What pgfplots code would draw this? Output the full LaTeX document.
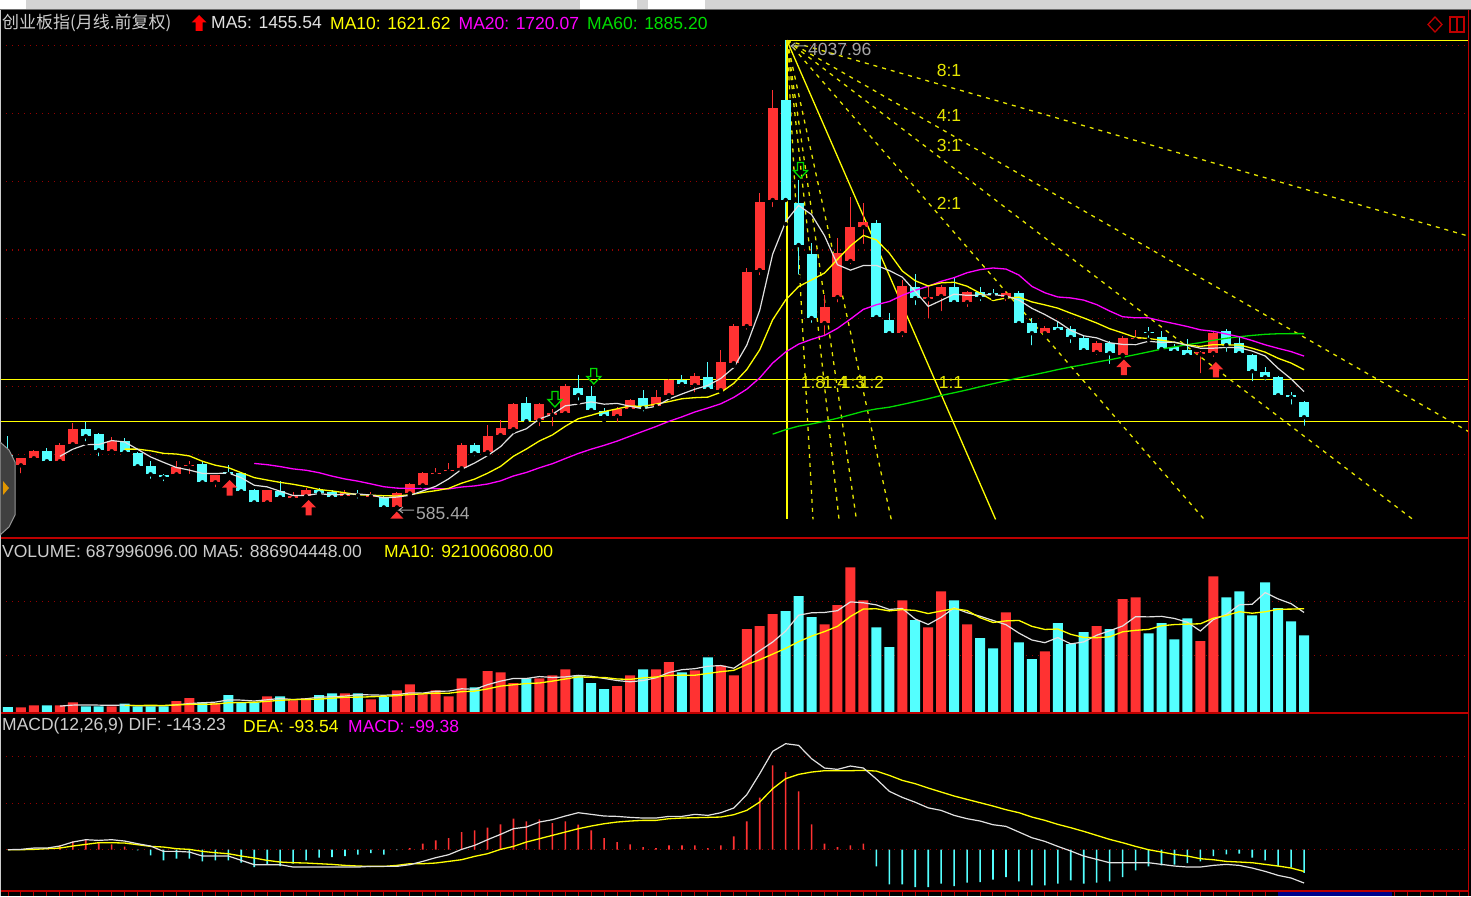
\documentclass[border=0pt]{standalone}
\usepackage{fontspec}
\setmainfont{Liberation Sans}
\newfontfamily\cjk{Noto Sans CJK SC}
\usepackage{pgfplots}
\usepackage{pgfplotstable}
\pgfplotsset{compat=1.18}

\definecolor{cred}{RGB}{255,50,50}
\definecolor{ccyan}{RGB}{84,255,255}
\definecolor{cyel}{RGB}{255,255,0}
\definecolor{cfan}{RGB}{230,230,0}
\definecolor{cmag}{RGB}{255,0,255}
\definecolor{cgrn}{RGB}{0,220,0}
\definecolor{cwht}{RGB}{225,225,225}
\definecolor{ctxt}{RGB}{205,205,205}
\definecolor{cgray}{RGB}{165,165,165}
\definecolor{cgrid}{RGB}{150,0,0}
\definecolor{cframe}{RGB}{190,0,0}
\definecolor{cbar}{RGB}{212,212,212}
\definecolor{cbarline}{RGB}{110,110,110}
\definecolor{ctab}{RGB}{64,64,64}
\definecolor{ctabline}{RGB}{150,150,150}
\definecolor{corange}{RGB}{225,150,0}
\definecolor{cnavy}{RGB}{0,0,140}

% block arrows used as marks
\pgfdeclareplotmark{uparrow}{%
  \pgfpathmoveto{\pgfpoint{0pt}{8pt}}
  \pgfpathlineto{\pgfpoint{7.5pt}{0.5pt}}
  \pgfpathlineto{\pgfpoint{3pt}{0.5pt}}
  \pgfpathlineto{\pgfpoint{3pt}{-7.5pt}}
  \pgfpathlineto{\pgfpoint{-3pt}{-7.5pt}}
  \pgfpathlineto{\pgfpoint{-3pt}{0.5pt}}
  \pgfpathlineto{\pgfpoint{-7.5pt}{0.5pt}}
  \pgfpathclose\pgfusepathqfill}
\pgfdeclareplotmark{downarrow}{%
  \pgfpathmoveto{\pgfpoint{0pt}{-8pt}}
  \pgfpathlineto{\pgfpoint{7pt}{-0.5pt}}
  \pgfpathlineto{\pgfpoint{3pt}{-0.5pt}}
  \pgfpathlineto{\pgfpoint{3pt}{7.5pt}}
  \pgfpathlineto{\pgfpoint{-3pt}{7.5pt}}
  \pgfpathlineto{\pgfpoint{-3pt}{-0.5pt}}
  \pgfpathlineto{\pgfpoint{-7pt}{-0.5pt}}
  \pgfpathclose\pgfusepathqstroke}
\pgfdeclareplotmark{lowtri}{%
  \pgfpathmoveto{\pgfpoint{0pt}{3.5pt}}
  \pgfpathlineto{\pgfpoint{6.5pt}{-3.5pt}}
  \pgfpathlineto{\pgfpoint{-6.5pt}{-3.5pt}}
  \pgfpathclose\pgfusepathqfill}

\pgfplotsset{
  panel/.style={scale only axis, width=1468pt, xmin=-0.617, xmax=112.65,
    anchor=north west, axis line style={draw=none}, xtick=\empty, ytick=\empty},
  gridl/.style={cgrid, line width=1.2pt, dash pattern=on 1.5pt off 4.5pt},
  wick/.style={only marks, mark=none, error bars/y dir=plus, error bars/y explicit,
    error bars/error mark=none, error bars/error bar style={#1, line width=1pt}},
  body/.style={only marks, mark=none, error bars/y dir=plus, error bars/y explicit,
    error bars/error mark=none, error bars/error bar style={#1, line width=10pt}},
}

% monthly candles, red = up
\pgfplotstableread{
i o h l c v
1 919 975 846 971 42
2 971 1030 960 1022 60
4 949 1081 920 1066 60
5 1074 1228 1060 1184 87
8 1022 1125 1010 1096 51
13 853 949 840 904 99
14 912 949 840 925 126
16 794 850 743 846 81
20 647 740 640 735 141
22 677 720 662 691 105
23 691 750 685 735 123
26 691 740 660 713 168
28 690 725 670 698 114
30 610 720 585 713 195
31 713 790 700 779 249
32 772 870 765 860 159
33 853 900 830 862 195
34 875 935 850 885 141
35 897 1081 880 1066 303
37 1015 1213 1000 1132 369
38 1140 1250 1130 1191 357
39 1184 1380 1170 1368 261
41 1250 1380 1191 1368 303
42 1290 1330 1191 1301 330
43 1301 1515 1290 1500 384
47 1280 1345 1220 1331 234
48 1331 1405 1320 1397 330
50 1353 1470 1340 1419 384
51 1434 1555 1420 1544 450
53 1507 1600 1441 1573 375
55 1470 1764 1460 1676 417
56 1669 1960 1650 1941 330
57 1941 2370 1900 2338 747
58 2352 2920 2300 2852 774
59 2867 3675 2800 3543 882
63 1963 2170 1850 2080 789
64 2154 2588 2100 2477 963
65 2419 2889 2380 2668 1302
66 2668 2845 2529 2705 1005
69 1889 2280 1846 2235 1005
71 2139 2230 1981 2154 762
72 2161 2240 2037 2227 1086
74 2117 2200 2067 2191 789
77 2154 2200 2111 2183 897
80 1889 1940 1870 1926 546
84 1750 1830 1714 1816 774
86 1728 1870 1720 1852 1017
87 1843 1912 1827 1852 1032
92 1735 1760 1580 1750 639
93 1742 1900 1700 1889 1221
}\up

% cyan = down
\pgfplotstableread{
i o h l c v
0 993 1136 882 919 45
3 1022 1045 935 949 60
6 1184 1235 1081 1132 51
7 1147 1155 971 1029 51
9 1096 1118 1000 1015 75
10 1007 1015 890 912 51
11 912 949 805 853 51
12 846 853 787 831 51
15 927 940 790 794 87
17 870 919 831 855 153
18 860 868 700 728 87
19 735 745 618 647 87
21 728 801 670 684 141
24 735 750 700 713 153
25 721 735 670 684 168
27 706 740 660 698 168
29 684 695 600 610 135
36 1066 1081 970 1007 222
40 1375 1420 1230 1243 303
44 1485 1581 1380 1434 330
45 1427 1500 1310 1324 261
46 1316 1340 1250 1280 207
49 1412 1470 1300 1338 384
52 1544 1580 1500 1515 357
54 1566 1676 1450 1478 492
60 3602 4038 2690 2867 909
61 2845 3014 2304 2536 1044
62 2470 2550 1950 2000 855
67 2698 2720 1980 2007 762
68 1985 2040 1866 1889 585
70 2227 2324 2081 2147 828
73 2227 2294 2110 2117 1005
75 2191 2228 2111 2154 666
76 2183 2214 2148 2169 573
78 2183 2200 1937 1963 627
79 1963 2000 1786 1889 477
81 1934 1970 1900 1911 801
82 1919 1942 1802 1860 612
83 1852 1870 1740 1764 720
85 1816 1830 1648 1742 747
88 1897 1935 1840 1889 708
89 1860 1907 1760 1772 801
90 1786 1810 1730 1757 654
91 1764 1846 1707 1728 843
94 1904 1920 1737 1801 1032
95 1816 1869 1722 1742 1086
96 1728 1740 1521 1610 870
97 1603 1643 1526 1566 1167
98 1566 1575 1416 1434 936
99 1434 1460 1350 1420 816
100 1382 1390 1195 1272 690
}\dn

% moving averages, volume averages, MACD
\pgfplotstableread{
i ma5 ma10 ma20 ma60 vma5 vma10 dif dea macd
0 nan nan nan nan nan nan 0 0 0
1 nan nan nan nan nan nan 1.4 0 0
2 nan nan nan nan nan nan 7.2 1.4 0
3 nan nan nan nan nan nan 7.2 4.3 0
4 985 nan nan nan 53 nan 15.8 7.2 18.6
5 1038 nan nan nan 62 nan 33.0 15.8 35.8
6 1071 nan nan nan 64 nan 43.0 23.0 43.0
7 1072 nan nan nan 62 nan 40.1 30.1 30.1
8 1101 nan nan nan 60 nan 43.0 30.1 22.9
9 1091 1038 nan nan 63 58 37.3 28.7 12.9
10 1037 1038 nan nan 56 59 25.8 21.5 -2.9
11 981 1026 nan nan 56 60 15.8 14.3 -24.4
12 941 1007 nan nan 56 59 -7.2 11.5 -45.9
13 903 1002 nan nan 65 63 -7.2 4.3 -38.7
14 884 988 nan nan 76 69 -10.0 1.4 -38.7
15 860 949 nan nan 83 69 -27.2 -7.2 -50.2
16 859 920 nan nan 89 72 -27.2 -12.9 -45.9
17 863 902 nan nan 109 83 -27.2 -17.2 -45.9
18 828 865 nan nan 107 86 -45.9 -27.2 -55.9
19 773 829 933 nan 99 87 -64.5 -35.8 -74.5
20 761 811 924 nan 110 96 -64.5 -45.9 -64.5
21 729 794 910 nan 122 105 -64.5 -53.0 -70.2
22 697 780 893 nan 112 111 -74.5 -55.9 -60.2
23 698 763 883 nan 119 113 -74.5 -57.3 -45.9
24 712 742 865 nan 133 116 -74.5 -60.2 -34.4
25 701 731 840 nan 138 124 -74.5 -63.1 -31.5
26 707 718 819 nan 143 133 -74.5 -67.4 -27.2
27 709 703 803 nan 156 134 -74.5 -70.2 -21.5
28 701 700 783 nan 154 137 -71.7 -71.7 -14.3
29 680 696 762 nan 151 142 -71.7 -71.7 -21.5
30 686 694 752 nan 156 147 -71.7 -67.4 -1.4
31 699 703 749 nan 172 158 -64.5 -60.2 7.2
32 731 720 750 nan 170 163 -50.2 -60.2 25.8
33 765 733 748 nan 187 170 -34.4 -57.3 40.1
34 820 750 746 nan 188 169 -21.5 -50.2 50.2
35 890 788 760 nan 209 183 1.4 -43.0 76.0
36 936 818 768 nan 204 188 18.6 -28.7 83.1
37 990 861 782 nan 246 208 43.0 -17.2 94.6
38 1056 911 805 nan 278 233 65.9 1.4 108.9
39 1153 986 841 nan 302 245 90.3 14.3 133.3
40 1188 1039 867 nan 302 256 97.5 33.0 121.8
41 1260 1098 901 nan 319 261 119.0 47.3 130.4
42 1294 1142 931 nan 311 278 129.0 61.6 114.7
43 1356 1206 969 nan 316 297 144.8 76.0 121.8
44 1369 1261 1006 nan 330 316 159.1 90.3 107.5
45 1385 1287 1038 nan 322 312 152.0 101.8 83.1
46 1368 1314 1066 nan 302 311 144.8 111.8 50.2
47 1374 1334 1097 nan 283 297 143.3 119.0 33.0
48 1353 1355 1133 nan 272 294 139.0 123.3 22.9
49 1334 1352 1169 nan 283 307 136.2 126.2 11.5
50 1353 1369 1204 nan 308 315 136.2 126.2 7.2
51 1406 1387 1242 nan 356 329 143.3 133.3 18.6
52 1443 1408 1275 nan 381 332 143.3 136.2 18.6
53 1478 1416 1311 nan 390 331 152.0 137.6 18.6
54 1506 1420 1340 nan 412 347 147.6 139.0 7.2
55 1557 1455 1371 nan 418 363 159.1 140.5 18.6
56 1637 1521 1418 nan 394 375 179.2 150.5 57.3
57 1801 1622 1478 nan 472 427 236.5 169.1 121.8
58 2057 1767 1561 nan 552 471 326.8 204.9 223.6
59 2470 1988 1670 1148 630 521 422.9 262.3 362.6
60 2708 2133 1751 1181 728 573 455.8 305.3 334.0
61 2827 2232 1809 1207 871 633 448.7 323.9 250.8
62 2760 2280 1844 1223 893 683 391.3 333.9 108.9
63 2605 2331 1873 1242 896 724 351.2 339.7 25.8
64 2392 2431 1925 1265 912 771 345.4 339.7 11.5
65 2352 2530 1993 1290 991 860 359.8 339.7 18.6
66 2386 2607 2064 1316 983 927 351.2 341.1 25.8
67 2387 2574 2098 1333 964 929 304.1 338.2 -71.7
68 2349 2477 2122 1346 923 910 251.0 319.6 -149.1
69 2301 2346 2167 1366 932 922 225.0 298.1 -149.1
70 2197 2274 2204 1387 837 914 204.0 283.8 -160.5
71 2086 2236 2234 1408 788 886 180.0 265.2 -160.5
72 2130 2259 2270 1432 853 909 169.0 248.0 -146.2
73 2176 2263 2297 1452 937 930 147.6 230.8 -156.2
74 2167 2234 2333 1473 894 913 133.3 216.4 -141.9
75 2169 2183 2356 1496 862 849 123.3 202.1 -139.0
76 2172 2129 2368 1518 824 806 107.5 187.8 -129.0
77 2163 2147 2360 1540 786 820 100.3 172.0 -117.5
78 2132 2154 2316 1561 710 824 76.0 159.1 -136.2
79 2072 2119 2233 1581 648 771 51.6 140.5 -153.4
80 2026 2097 2186 1601 624 743 35.8 126.2 -153.4
81 1974 2073 2155 1622 670 747 14.3 109.0 -146.2
82 1910 2036 2148 1641 613 699 -5.7 94.6 -131.8
83 1870 2001 2132 1658 631 671 -27.2 78.8 -146.2
84 1855 1964 2099 1677 691 669 -41.6 61.6 -141.9
85 1819 1922 2052 1694 731 677 -55.9 44.4 -136.2
86 1807 1891 2010 1713 774 722 -55.9 30.1 -117.5
87 1805 1858 2002 1732 858 735 -55.9 14.3 -88.9
88 1830 1850 2002 1752 856 743 -55.9 0 -71.7
89 1821 1838 1979 1772 861 776 -63.1 -10.0 -67.4
90 1824 1822 1959 1789 842 787 -70.2 -20.1 -64.5
91 1800 1803 1938 1805 808 791 -74.5 -27.2 -57.3
92 1779 1792 1914 1820 729 794 -74.5 -38.7 -50.2
93 1779 1805 1903 1837 832 844 -67.4 -43.0 -27.2
94 1785 1803 1883 1852 878 869 -63.1 -50.2 -20.1
95 1782 1803 1863 1863 964 903 -67.4 -53.0 -17.2
96 1758 1779 1835 1873 970 889 -78.8 -55.9 -34.4
97 1722 1750 1804 1881 1075 902 -93.2 -63.1 -45.9
98 1631 1705 1778 1885 1018 925 -110.4 -70.2 -71.7
99 1554 1670 1754 1886 975 926 -121.8 -78.8 -77.4
100 1460 1621 1721 1886 896 930 -143.2 -93.5 -99.4
}\main

\newcommand\tf{\fontsize{17.5}{18}\selectfont}

\begin{document}
\begin{tikzpicture}[x=1pt, y=1pt]
\useasboundingbox (0,0) rectangle (1471,-896);
\fill[black] (0,0) rectangle (1471,-896);
% top toolbar strip
\fill[cbar] (0,0) rectangle (1471,-9);
\fill[white] (0,0) rectangle (26,-9);
\fill[white] (580,0) rectangle (637,-9);
\fill[white] (648,0) rectangle (705,-9);
\draw[cbarline, line width=1.5pt] (0,-9.5) -- (1471,-9.5);

% ---------------- price panel ----------------
\begin{axis}[panel, at={(0pt,-33pt)}, height=504pt, ymin=393, ymax=4093]
% dotted grid
\addplot[gridl] coordinates {(-0.62,1000) (112.65,1000)};
\addplot[gridl] coordinates {(-0.62,1500) (112.65,1500)};
\addplot[gridl] coordinates {(-0.62,2000) (112.65,2000)};
\addplot[gridl] coordinates {(-0.62,2500) (112.65,2500)};
\addplot[gridl] coordinates {(-0.62,3000) (112.65,3000)};
\addplot[gridl] coordinates {(-0.62,3500) (112.65,3500)};
\addplot[gridl] coordinates {(-0.62,4000) (112.65,4000)};
% horizontal lines and Gann fan
\addplot[cyel, line width=1.6pt] coordinates {(-0.62,1549) (112.65,1549)};
\addplot[cyel, line width=1.6pt] coordinates {(-0.62,1242) (112.65,1242)};
\addplot[cyel, line width=1.3pt] coordinates {(60.1,4038) (112.65,4038)};
\addplot[cyel, line width=1.6pt] coordinates {(60.1,4038) (60.1,522)};
\addplot[cfan, line width=1.3pt, dash pattern=on 4pt off 5pt] coordinates {(60.1,4038) (112.65,2603)};
\addplot[cfan, line width=1.3pt, dash pattern=on 4pt off 5pt] coordinates {(60.1,4038) (112.65,1169)};
\addplot[cfan, line width=1.3pt, dash pattern=on 4pt off 5pt] coordinates {(60.1,4038) (108.4,522)};
\addplot[cfan, line width=1.3pt, dash pattern=on 4pt off 5pt] coordinates {(60.1,4038) (92.3,522)};
\addplot[cyel, line width=1.3pt] coordinates {(60.1,4038) (76.2,522)};
\addplot[cfan, line width=1.3pt, dash pattern=on 4pt off 5pt] coordinates {(60.1,4038) (68.15,522)};
\addplot[cfan, line width=1.3pt, dash pattern=on 4pt off 5pt] coordinates {(60.1,4038) (65.46,522)};
\addplot[cfan, line width=1.3pt, dash pattern=on 4pt off 5pt] coordinates {(60.1,4038) (64.12,522)};
\addplot[cfan, line width=1.3pt, dash pattern=on 4pt off 5pt] coordinates {(60.1,4038) (62.11,522)};
% candles
\addplot[wick=cred] table[x=i, y=l, y error expr=\thisrow{h}-\thisrow{l}] {\up};
\addplot[body=cred] table[x=i, y=o, y error expr=\thisrow{c}-\thisrow{o}] {\up};
\addplot[wick=ccyan] table[x=i, y=l, y error expr=\thisrow{h}-\thisrow{l}] {\dn};
\addplot[body=ccyan] table[x=i, y=c, y error expr=\thisrow{o}-\thisrow{c}] {\dn};
% moving averages
\addplot[cgrn, line width=1.3pt] table[x=i, y=ma60] {\main};
\addplot[cmag, line width=1.3pt] table[x=i, y=ma20] {\main};
\addplot[cyel, line width=1.3pt] table[x=i, y=ma10] {\main};
\addplot[cwht, line width=1.2pt] table[x=i, y=ma5] {\main};
% signal marks
\addplot[only marks, mark=uparrow, cred] coordinates {(17.1,752) (23.2,606) (86.1,1637) (93.2,1619)};
\addplot[only marks, mark=downarrow, cgrn, line width=1.3pt] coordinates {(42.2,1406) (45.2,1575) (61.15,3087)};
\addplot[only marks, mark=lowtri, cred] coordinates {(30,554)};
\end{axis}

% ---------------- volume panel ----------------
\begin{axis}[panel, at={(0pt,-539pt)}, height=173pt, ymin=0, ymax=1557]
\addplot[gridl] coordinates {(-0.62,507) (112.65,507)};
\addplot[gridl] coordinates {(-0.62,993) (112.65,993)};
\addplot[ybar, bar width=10pt, bar shift=0pt, fill=cred, draw=none] table[x=i, y=v] {\up};
\addplot[ybar, bar width=10pt, bar shift=0pt, fill=ccyan, draw=none] table[x=i, y=v] {\dn};
\addplot[cwht, line width=1.2pt] table[x=i, y=vma5] {\main};
\addplot[cyel, line width=1.3pt] table[x=i, y=vma10] {\main};
\end{axis}

% ---------------- MACD panel ----------------
\begin{axis}[panel, at={(0pt,-714pt)}, height=177pt, ymin=-177.6, ymax=583.5]
\addplot[gridl] coordinates {(-0.62,0) (112.65,0)};
\addplot[gridl] coordinates {(-0.62,200) (112.65,200)};
\addplot[gridl] coordinates {(-0.62,400) (112.65,400)};
\addplot[ybar, bar width=1.6pt, bar shift=0pt, fill=cred, draw=none,
  restrict y to domain=0:1000] table[x=i, y=macd] {\main};
\addplot[ybar, bar width=1.6pt, bar shift=0pt, fill=ccyan, draw=none,
  restrict y to domain=-1000:0] table[x=i, y=macd] {\main};
\addplot[cyel, line width=1.3pt] table[x=i, y=dea] {\main};
\addplot[cwht, line width=1.2pt] table[x=i, y=dif] {\main};
\end{axis}

% frame lines
\draw[cframe, line width=2pt] (0,-537.5) -- (1468,-537.5);
\draw[cframe, line width=2pt] (0,-713) -- (1468,-713);
\draw[cframe, line width=2pt] (0,-891) -- (1468,-891);
\draw[cframe, line width=1.5pt] (1468.5,-10) -- (1468.5,-896);
\draw[ctxt, line width=1pt] (0.5,-10) -- (0.5,-896);
\foreach \k in {0,...,112} {\draw[cframe, line width=1pt] ({8+12.96*\k},-891) -- ++(0,-5);}
\fill[cnavy] (1278,-892) rectangle (1392,-896);

% left tab
\filldraw[fill=ctab, draw=ctabline, line width=1pt]
  (0,-442) -- (9,-450) -- (15,-462) -- (15,-515) -- (9,-527) -- (0,-535) -- cycle;
\fill[corange] (3,-481) -- (9,-488) -- (3,-495) -- cycle;

% top-right icons
\draw[cframe, line width=1.3pt] (1435,-17) -- (1442,-24.5) -- (1435,-32) -- (1428,-24.5) -- cycle;
\draw[cframe, line width=1.3pt] (1450,-17) rectangle (1464,-32);
\draw[cframe, line width=1.3pt] (1457,-17) -- (1457,-32);

% titles
\node[anchor=west, inner sep=0, text=ctxt, font=\cjk\fontsize{17}{17}\selectfont] at (2,-23) {创业板指(月线.前复权)};
\fill[red] (199,-15) -- (206.5,-22.5) -- (202.5,-22.5) -- (202.5,-31) -- (195.5,-31) -- (195.5,-22.5) -- (191.5,-22.5) -- cycle;
\node[anchor=west, inner sep=0, text=cwht, font=\tf] at (211,-23) {MA5: 1455.54};
\node[anchor=west, inner sep=0, text=cyel, font=\tf] at (330,-23) {MA10: 1621.62};
\node[anchor=west, inner sep=0, text=cmag, font=\tf] at (458.5,-23) {MA20: 1720.07};
\node[anchor=west, inner sep=0, text=cgrn, font=\tf] at (587,-23) {MA60: 1885.20};

\node[anchor=west, inner sep=0, text=ctxt, font=\tf] at (2,-551) {VOLUME: 687996096.00 MA5: 886904448.00};
\node[anchor=west, inner sep=0, text=cyel, font=\tf] at (384,-551) {MA10: 921006080.00};

\node[anchor=west, inner sep=0, text=ctxt, font=\tf] at (2,-726) {MACD(12,26,9) DIF: -143.23};
\node[anchor=west, inner sep=0, text=cyel, font=\tf] at (243,-726) {DEA: -93.54};
\node[anchor=west, inner sep=0, text=cmag, font=\tf] at (348,-726) {MACD: -99.38};

% price annotations
\draw[cgray, line width=1pt] (806,-46) -- (791,-46) -- (795,-43);
\draw[cgray, line width=1pt] (791,-46) -- (795,-49);
\node[anchor=west, inner sep=0, text=cgray, font=\tf] at (808,-49) {4037.96};
\draw[cgray, line width=1pt] (414,-510) -- (399,-510) -- (403,-507);
\draw[cgray, line width=1pt] (399,-510) -- (403,-513);
\node[anchor=west, inner sep=0, text=cgray, font=\tf] at (416,-513) {585.44};

% fan labels
\node[inner sep=0, text=cfan, font=\tf] at (949,-70) {8:1};
\node[inner sep=0, text=cfan, font=\tf] at (949,-115) {4:1};
\node[inner sep=0, text=cfan, font=\tf] at (949,-145) {3:1};
\node[inner sep=0, text=cfan, font=\tf] at (949,-203) {2:1};
\node[inner sep=0, text=cfan, font=\tf] at (951,-382) {1:1};
\node[inner sep=0, text=cfan, font=\tf] at (813,-382) {1:8};
\node[inner sep=0, text=cfan, font=\tf] at (835,-382) {1:4};
\node[inner sep=0, text=cfan, font=\tf] at (853,-382) {1:3};
\node[inner sep=0, text=cfan, font=\tf] at (872,-382) {1:2};
\end{tikzpicture}
\end{document}
